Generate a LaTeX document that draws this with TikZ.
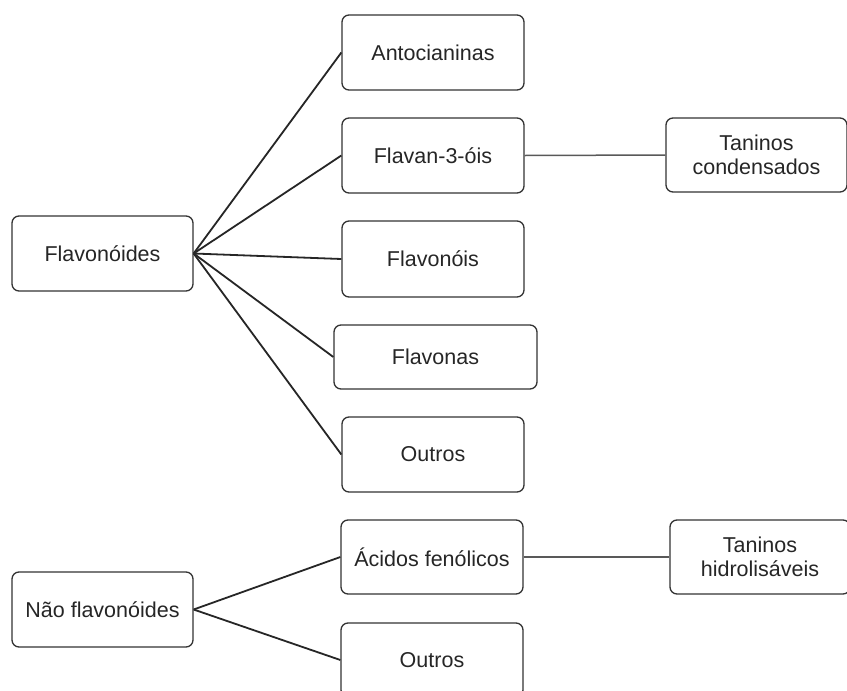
\documentclass[tikz,border=0pt]{standalone}
\usepackage{fontspec}
\setmainfont{Liberation Sans}
\begin{document}
\begin{tikzpicture}[x=1pt,y=-1pt,
  box/.style={draw=black!80,line width=1.3pt,rounded corners=7pt,fill=white,
    inner sep=0pt,align=center,font=\fontsize{21.5}{23.5}\selectfont,text=black!85},
  link/.style={draw=black!85,line width=1.8pt},
  thin link/.style={draw=black!65,line width=1.5pt}]
\useasboundingbox[fill=white] (0,0) rectangle (847,691);
\node[box,minimum width=181pt,minimum height=75pt] (flav) at (102.5,253.5) {Flavonóides};
\node[box,minimum width=182pt,minimum height=75pt] (anto) at (433,52.5) {Antocianinas};
\node[box,minimum width=182pt,minimum height=75pt] (fl3) at (433,155.5) {Flavan-3-óis};
\node[box,minimum width=181pt,minimum height=74pt] (tcond) at (756.5,155) {Taninos\\condensados};
\node[box,minimum width=182pt,minimum height=76pt] (flol) at (433,259) {Flavonóis};
\node[box,minimum width=203pt,minimum height=64pt] (flna) at (435.5,357) {Flavonas};
\node[box,minimum width=182pt,minimum height=75pt] (out1) at (433,454.5) {Outros};
\node[box,minimum width=181pt,minimum height=75pt] (naof) at (102.5,609.5) {Não flavonóides};
\node[box,minimum width=182pt,minimum height=74pt] (acid) at (432,557) {Ácidos fenólicos};
\node[box,minimum width=180pt,minimum height=74pt] (thid) at (760,557) {Taninos\\hidrolisáveis};
\node[box,minimum width=182pt,minimum height=74pt] (out2) at (432,660) {Outros};
\foreach \t in {anto,fl3,flol,flna,out1}
  \draw[link] (flav.east) -- (\t.west);
\foreach \t in {acid,out2}
  \draw[link] (naof.east) -- (\t.west);
\draw[thin link] (fl3.east) -- (tcond.west);
\draw[thin link] (acid.east) -- (thid.west);
\end{tikzpicture}
\end{document}
